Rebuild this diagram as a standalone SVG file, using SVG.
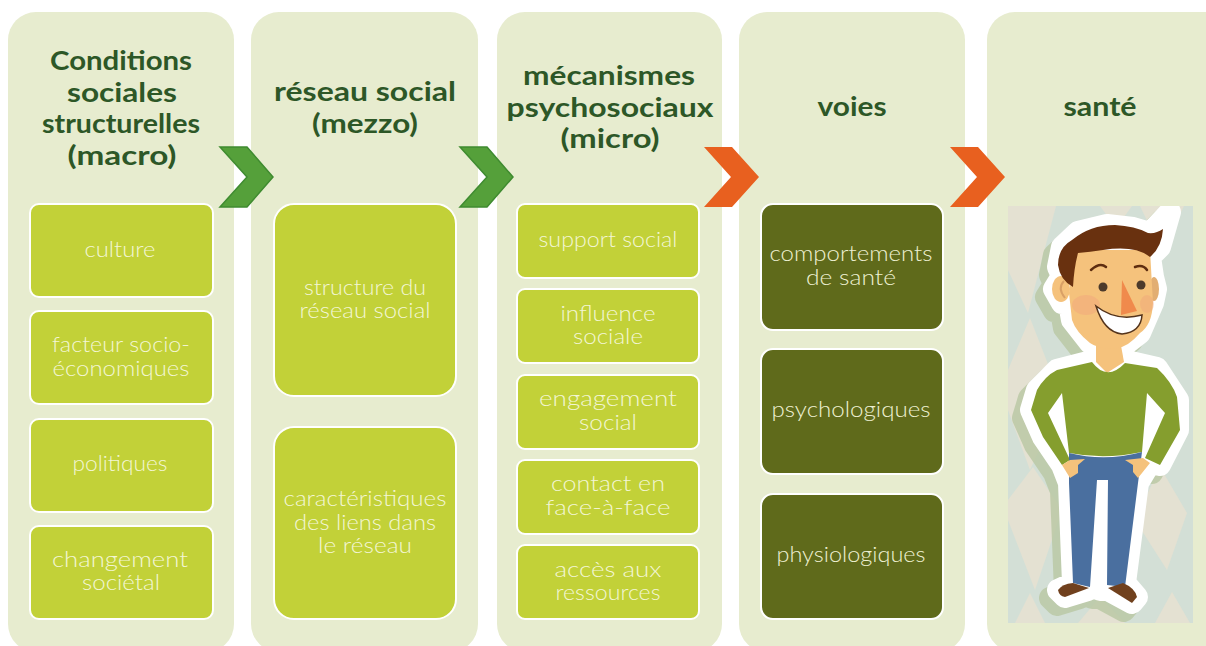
<svg xmlns="http://www.w3.org/2000/svg" xmlns:xlink="http://www.w3.org/1999/xlink" width="1206" height="646" viewBox="0 0 1206 646">
<style>
text { font-family: "Lato", "Liberation Sans", sans-serif; text-anchor: middle; }
.panel { fill: #e7eccf; }
.title { font-size: 27px; font-weight: 700; fill: #2d5727; }
.label { font-size: 21px; font-weight: 300; fill: #f3f6d4; }
.label.onDark { fill: #eef0d2; }
.box { fill: #c2d138; stroke: #ffffff; stroke-width: 2; }
.boxDark { fill: #5f6a1b; stroke: #ffffff; stroke-width: 2; }
.green { fill: #55a03a; stroke: #3f8b30; stroke-width: 1.5; }
.orange { fill: #e8601f; }
</style>
<defs>
<clipPath id="portrait"><rect x="1008" y="206" width="185" height="417"/></clipPath>
<path id="silhouette" stroke-linejoin="round" d="M1170 212L1150 233L1133 228L1107 225L1078 232L1062 247L1058 267L1062 276L1054 289L1062 303L1069 303L1072 320L1090 343L1096 346L1096 360L1057 370L1037 390L1031 410L1043 437L1062 465L1069 483L1073 583L1058 590L1065 597L1088 590L1097 570L1100 590L1108 590L1132 603L1137 597L1125 583L1138 483L1150 463L1160 465L1178 430L1178 400L1157 368L1122 360L1122 347L1140 333L1153 303L1156 289L1153 277L1150 257L1160 247Z"/>
</defs>

<g id="col-macro">
<rect class="panel" x="8" y="12" width="226" height="640" rx="28"/>
<text class="title"><tspan x="121" y="70" textLength="142" lengthAdjust="spacingAndGlyphs">Conditions</tspan><tspan x="122" y="102" textLength="110" lengthAdjust="spacingAndGlyphs">sociales</tspan><tspan x="121" y="133" textLength="158" lengthAdjust="spacingAndGlyphs">structurelles</tspan><tspan x="122" y="165" textLength="109" lengthAdjust="spacingAndGlyphs">(macro)</tspan></text>
</g>
<g id="box-culture"><rect class="box" x="30" y="204" width="183" height="93" rx="9"/><text class="label" x="120" y="257" textLength="71" lengthAdjust="spacingAndGlyphs">culture</text></g>
<g id="box-facteur"><rect class="box" x="30" y="311" width="183" height="93" rx="9"/><text class="label"><tspan x="121" y="352" textLength="138" lengthAdjust="spacingAndGlyphs">facteur socio-</tspan><tspan x="121" y="376" textLength="137" lengthAdjust="spacingAndGlyphs">économiques</tspan></text></g>
<g id="box-politiques"><rect class="box" x="30" y="419" width="183" height="93" rx="9"/><text class="label" x="120" y="471" textLength="95" lengthAdjust="spacingAndGlyphs">politiques</text></g>
<g id="box-changement"><rect class="box" x="30" y="526" width="183" height="93" rx="9"/><text class="label"><tspan x="120" y="567" textLength="136" lengthAdjust="spacingAndGlyphs">changement</tspan><tspan x="121" y="590" textLength="78" lengthAdjust="spacingAndGlyphs">sociétal</tspan></text></g>

<g id="col-mezzo">
<rect class="panel" x="251" y="12" width="227" height="640" rx="28"/>
<text class="title"><tspan x="365" y="101" textLength="182" lengthAdjust="spacingAndGlyphs">réseau social</tspan><tspan x="365" y="133" textLength="106" lengthAdjust="spacingAndGlyphs">(mezzo)</tspan></text>
</g>
<g id="box-structure"><rect class="box" x="274" y="204" width="182" height="192" rx="20"/><text class="label"><tspan x="365" y="295" textLength="122" lengthAdjust="spacingAndGlyphs">structure du</tspan><tspan x="365" y="318" textLength="131" lengthAdjust="spacingAndGlyphs">réseau social</tspan></text></g>
<g id="box-liens"><rect class="box" x="274" y="427" width="182" height="192" rx="20"/><text class="label"><tspan x="365" y="506" textLength="163" lengthAdjust="spacingAndGlyphs">caractéristiques</tspan><tspan x="365" y="530" textLength="142" lengthAdjust="spacingAndGlyphs">des liens  dans</tspan><tspan x="365" y="553" textLength="94" lengthAdjust="spacingAndGlyphs">le réseau</tspan></text></g>

<g id="col-micro">
<rect class="panel" x="497" y="12" width="225" height="640" rx="28"/>
<text class="title"><tspan x="609" y="85" textLength="172" lengthAdjust="spacingAndGlyphs">mécanismes</tspan><tspan x="610" y="117" textLength="207" lengthAdjust="spacingAndGlyphs">psychosociaux</tspan><tspan x="610" y="148" textLength="99" lengthAdjust="spacingAndGlyphs">(micro)</tspan></text>
</g>
<g id="box-support"><rect class="box" x="517" y="204" width="182" height="74" rx="8"/><text class="label" x="608" y="247" textLength="139" lengthAdjust="spacingAndGlyphs">support social</text></g>
<g id="box-influence"><rect class="box" x="517" y="289" width="182" height="74" rx="8"/><text class="label"><tspan x="608" y="321" textLength="95" lengthAdjust="spacingAndGlyphs">influence</tspan><tspan x="608" y="344" textLength="70" lengthAdjust="spacingAndGlyphs">sociale</tspan></text></g>
<g id="box-engagement"><rect class="box" x="517" y="375" width="182" height="74" rx="8"/><text class="label"><tspan x="608" y="406" textLength="138" lengthAdjust="spacingAndGlyphs">engagement</tspan><tspan x="608" y="430" textLength="58" lengthAdjust="spacingAndGlyphs">social</tspan></text></g>
<g id="box-contact"><rect class="box" x="517" y="460" width="182" height="74" rx="8"/><text class="label"><tspan x="608" y="491" textLength="114" lengthAdjust="spacingAndGlyphs">contact en</tspan><tspan x="608" y="515" textLength="125" lengthAdjust="spacingAndGlyphs">face-à-face</tspan></text></g>
<g id="box-acces"><rect class="box" x="517" y="545" width="182" height="74" rx="8"/><text class="label"><tspan x="608" y="577" textLength="107" lengthAdjust="spacingAndGlyphs">accès aux</tspan><tspan x="608" y="600" textLength="105" lengthAdjust="spacingAndGlyphs">ressources</tspan></text></g>

<g id="col-voies">
<rect class="panel" x="739" y="12" width="226" height="640" rx="28"/>
<text class="title" x="852" y="116" textLength="69" lengthAdjust="spacingAndGlyphs">voies</text>
</g>
<g id="box-comportements"><rect class="boxDark" x="761" y="204" width="182" height="126" rx="12"/><text class="label onDark"><tspan x="851" y="261" textLength="163" lengthAdjust="spacingAndGlyphs">comportements</tspan><tspan x="851" y="285" textLength="90" lengthAdjust="spacingAndGlyphs">de santé</tspan></text></g>
<g id="box-psychologiques"><rect class="boxDark" x="761" y="349" width="182" height="125" rx="12"/><text class="label onDark" x="851" y="417" textLength="159" lengthAdjust="spacingAndGlyphs">psychologiques</text></g>
<g id="box-physiologiques"><rect class="boxDark" x="761" y="494" width="182" height="125" rx="12"/><text class="label onDark" x="851" y="562" textLength="149" lengthAdjust="spacingAndGlyphs">physiologiques</text></g>

<g id="col-sante">
<rect class="panel" x="987" y="12" width="260" height="640" rx="28"/>
<text class="title" x="1100" y="116" textLength="73" lengthAdjust="spacingAndGlyphs">santé</text>
</g>

<g id="figure-sante" clip-path="url(#portrait)">
<rect x="1008" y="206" width="185" height="417" fill="#d3dfd6"/>
<!-- harlequin backdrop -->
<g fill="#e4e1d2">
<path d="M1008 206L1056 206L1028 313L1008 270Z"/>
<path d="M1100 206L1132 206L1116 228Z"/>
<path d="M1140 206L1184 206L1162 252Z"/>
<path d="M1030 318L1062 400L1030 470L1008 410L1008 370Z"/>
<path d="M1033 467L1062 510L1035 590L1008 520L1008 500Z"/>
<path d="M1160 467L1187 513L1167 570L1135 520Z"/>
<path d="M1015 623L1030 593L1045 623Z"/>
<path d="M1078 623L1100 597L1125 623Z"/>
<path d="M1155 623L1172 592L1190 623Z"/>
</g>
<use xlink:href="#silhouette" href="#silhouette" transform="translate(-8 8)" fill="#b9c8a3" stroke="#b9c8a3" stroke-width="22" opacity="0.8"/>
<use xlink:href="#silhouette" href="#silhouette" fill="#ffffff" stroke="#ffffff" stroke-width="22"/>
<!-- neck and head -->
<path d="M1096 340L1096 362L1107 373L1124 362L1120 340Z" fill="#f5c27c"/>
<ellipse cx="1061" cy="289" rx="9" ry="13" fill="#f5c27c"/>
<path d="M1064 281Q1057 288 1065 298" fill="none" stroke="#d9a066" stroke-width="2"/>
<ellipse cx="1154" cy="289" rx="5" ry="12" fill="#e2ae72"/>
<path d="M1076 250L1150 250L1153 303Q1152 325 1140 333Q1128 347 1117 348Q1100 350 1090 343Q1076 332 1072 320L1069 293Z" fill="#f5c27c"/>
<ellipse cx="1086" cy="305" rx="14" ry="10" fill="#ef9f7c" opacity="0.4"/>
<ellipse cx="1147" cy="304" rx="7" ry="9" fill="#ef9f7c" opacity="0.35"/>
<path d="M1073 287Q1060 280 1058 265Q1058 248 1072 240Q1090 225 1115 225Q1135 226 1148 233Q1156 234 1163 229Q1162 247 1150 257Q1135 245 1103 250Q1090 252 1078 253Q1074 268 1073 287Z" fill="#69310f"/>
<path d="M1091 270Q1100 262 1106 267M1135 267Q1143 264 1147 270" fill="none" stroke="#5e2d10" stroke-width="2.5" stroke-linecap="round"/>
<circle cx="1103" cy="287" r="4.5" fill="#4c3a2b"/>
<circle cx="1141" cy="285" r="4.5" fill="#4c3a2b"/>
<path d="M1096 306Q1116 322 1142 315Q1141 332 1122 334Q1104 332 1096 306Z" fill="#ffffff" stroke="#54341c" stroke-width="1.5"/>
<path d="M1122 280L1137 311L1121 315Z" fill="#f08a4c"/>
<!-- jumper -->
<path d="M1092 362Q1107 382 1125 363L1157 368Q1172 382 1177 397L1180 430L1160 465L1145 458L1165 413L1147 393L1142 452Q1105 460 1069 453L1062 393L1048 413L1070 460L1062 465L1043 437L1031 410L1037 390Q1045 376 1057 370Z" fill="#859e2e"/>
<!-- trousers -->
<path d="M1069 453Q1105 462 1142 452L1138 483L1125 587L1107 585L1108 480L1097 480L1090 587L1073 583L1069 483Z" fill="#4a6f9f"/>
<!-- hands and shoes -->
<path d="M1062 465L1070 460L1085 459L1078 465L1078 473L1070 478Z" fill="#f5c27c"/>
<path d="M1125 460L1143 458L1150 463L1138 478L1133 472L1133 465Z" fill="#f5c27c"/>
<path d="M1058 590Q1062 584 1073 583L1089 588L1065 597Q1059 596 1058 590Z" fill="#70401d"/>
<path d="M1108 588L1123 583Q1135 588 1137 597L1132 603Z" fill="#70401d"/>
</g>

<g id="connectors">
<path class="green" d="M220 147L247 147L273 177L247 207L220 207L247 177Z"/>
<path class="green" d="M460 147L487 147L513 177L487 207L460 207L487 177Z"/>
<path class="orange" d="M704 147L732 147L759 177L732 207L704 207L731 177Z"/>
<path class="orange" d="M950 147L978 147L1005 177L978 207L950 207L977 177Z"/>
</g>
</svg>
